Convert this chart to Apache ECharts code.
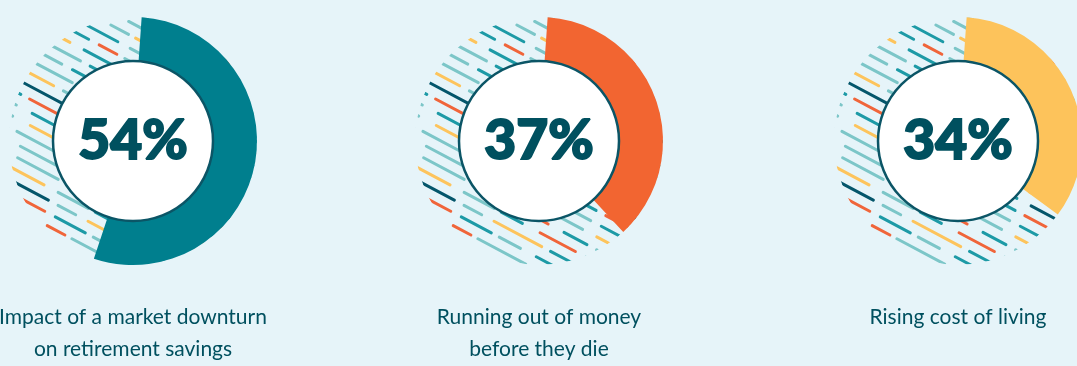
<!DOCTYPE html>
<html>
<head>
<meta charset="utf-8">
<script src="https://cdn.jsdelivr.net/npm/echarts@6/dist/echarts.min.js"></script>
<style>
html,body{margin:0;padding:0;background:#e6f4f9;}
#chart{width:1077px;height:366px;}
</style>
</head>
<body>
<div id="chart"></div>
<script>
// ---- data ----
const categories = ['Impact of a market downturn\non retirement savings', 'Running out of money\nbefore they die', 'Rising cost of living'];
const values = [54, 37, 34];
const arcColors = ['#007f8e', '#f26531', '#fdc35b'];

// ---- layout (positions only) ----
const W = 1077, H = 366;
const centersX = [133, 539, 958];
const centerY = 141;
const R_OUT = 124, R_IN = 80;
const TEXT = '#00505f';

// decorative hatch pattern (deterministic)
const HT = '#1d9aa6', HL = '#7cc6c8', HY = '#fdc45c', HO = '#f0653a', HD = '#04566b';
function drawHatch(ctx, cx, cy, R) {
  ctx.save();
  ctx.beginPath(); ctx.arc(cx, cy, R, 0, Math.PI * 2); ctx.clip();
  const ang = 28 * Math.PI / 180;
  const dx = Math.cos(ang), dy = Math.sin(ang), nx = -dy, ny = dx;
  const spacing = 11.5;
  const lens = [30, 46, 20, 54, 26, 38, 16, 44, 34, 24, 40, 28];
  const gaps = [10, 16, 8, 20, 12, 9, 18, 11, 14];
  const cols = [HT, HL, HT, HY, HL, HT, HO, HL, HT, HD, HL, HY, HT, HL, HT, HO];
  let li = 0, gi = 3, ci = 0;
  ctx.lineWidth = 3;
  ctx.lineCap = 'round';
  for (let k = -12; k <= 12; k++) {
    const ox = cx + nx * k * spacing, oy = cy + ny * k * spacing;
    let t = -R - (((k * 13) % 29) + 29) % 29;
    while (t < R) {
      const L = lens[li++ % lens.length];
      ctx.strokeStyle = cols[ci++ % cols.length];
      ctx.beginPath();
      ctx.moveTo(ox + dx * t, oy + dy * t);
      ctx.lineTo(ox + dx * (t + L), oy + dy * (t + L));
      ctx.stroke();
      t += L + gaps[gi++ % gaps.length];
    }
  }
  ctx.restore();
}
const hatchCanvas = document.createElement('canvas');
hatchCanvas.width = W; hatchCanvas.height = H;
const hctx = hatchCanvas.getContext('2d');
centersX.forEach(cx => drawHatch(hctx, cx, centerY, R_OUT));

const series = [];
const graphics = [];
values.forEach((v, i) => {
  const center = [centersX[i], centerY];
  series.push({
    type: 'pie', silent: true, center, radius: [0, R_OUT],
    label: { show: false }, labelLine: { show: false },
    itemStyle: { color: { image: hatchCanvas, repeat: 'no-repeat' } },
    data: [{ value: 1 }]
  });
  series.push({
    type: 'pie', silent: true, center, radius: [R_IN, R_OUT],
    startAngle: 86, clockwise: true,
    label: { show: false }, labelLine: { show: false },
    data: [
      { value: v, itemStyle: { color: arcColors[i] } },
      { value: 100 - v, itemStyle: { color: 'rgba(0,0,0,0)' } }
    ]
  });
  series.push({
    type: 'pie', silent: true, center, radius: [0, R_IN],
    labelLine: { show: false },
    itemStyle: { color: '#ffffff', borderColor: '#0b5566', borderWidth: 2.5 },
    label: {
      show: true, position: 'center', formatter: v + '%',
      color: TEXT, fontFamily: 'Lato', fontWeight: 900, fontSize: 55,
      textBorderColor: TEXT, textBorderWidth: 2,
      padding: [8, 0, 0, 0]
    },
    data: [{ value: 1 }]
  });
  graphics.push({
    type: 'text', x: centersX[i], y: 301,
    style: {
      text: categories[i], textAlign: 'center', textVerticalAlign: 'top',
      fill: TEXT, font: '21px Lato', lineHeight: 32
    }
  });
});

const chart = echarts.init(document.getElementById('chart'), null, { renderer: 'canvas' });
chart.setOption({
  backgroundColor: '#e6f4f9',
  animation: false,
  series,
  graphic: graphics
});
</script>
</body>
</html>
